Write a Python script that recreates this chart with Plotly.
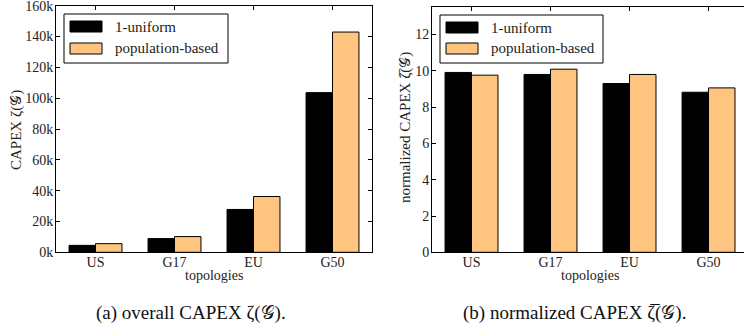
import plotly.graph_objects as go

# ---- data ----
categories = ["US", "G17", "EU", "G50"]
series_names = ["1-uniform", "population-based"]
capex_uniform = [4500, 8900, 27800, 103600]
capex_population = [5600, 10200, 36200, 142900]
norm_uniform = [9.91, 9.80, 9.30, 8.82]
norm_population = [9.76, 10.09, 9.80, 9.06]
left_ytick_vals = [0, 20000, 40000, 60000, 80000, 100000, 120000, 140000, 160000]
left_ytick_text = ["0k", "20k", "40k", "60k", "80k", "100k", "120k", "140k", "160k"]
right_ytick_vals = [0, 2, 4, 6, 8, 10, 12]

# ---- style ----
W, H = 744, 327
FONT = "Liberation Serif"
TXT = "#222222"
BLACK = "#000000"
ORANGE = "#FFC580"
colors = [BLACK, ORANGE]

x_idx = list(range(len(categories)))

fig = go.Figure()

def add_bars(vals_list, xa, ya):
    for name, vals, col in zip(series_names, vals_list, colors):
        fig.add_trace(go.Bar(
            x=x_idx, y=vals, name=name, xaxis=xa, yaxis=ya,
            marker=dict(color=col, line=dict(color=BLACK, width=1)),
            showlegend=False, offsetgroup=name,
        ))

add_bars([capex_uniform, capex_population], "x", "y")
add_bars([norm_uniform, norm_population], "x2", "y2")

def px_x(px):
    return px / W

def px_y(py):
    return 1 - py / H

axis_common = dict(
    showline=True, linecolor=BLACK, linewidth=1,
    ticks="inside", ticklen=4, tickcolor=BLACK, tickwidth=1,
    showgrid=False, zeroline=False, automargin=False,
    ticklabeloverflow="allow",
    tickfont=dict(family=FONT, size=14, color=TXT),
)

fig.update_layout(
    width=W, height=H,
    margin=dict(l=0, r=0, t=0, b=0, pad=0),
    paper_bgcolor="white", plot_bgcolor="white",
    barmode="group", bargap=0.33, bargroupgap=0,
    font=dict(family=FONT, color=TXT),
    xaxis=dict(domain=[px_x(56), px_x(372)], range=[-0.5, 3.5],
               tickvals=x_idx, ticktext=categories, mirror="ticks",
               ticklabelstandoff=-3, anchor="y", **axis_common),
    yaxis=dict(domain=[px_y(252.3), px_y(5.7)], range=[0, 160000],
               tickvals=left_ytick_vals, ticktext=left_ytick_text,
               ticklabelstandoff=-1, mirror="ticks", anchor="x", **axis_common),
    xaxis2=dict(domain=[px_x(432), 1.0], range=[-0.5, 3.449],
                tickvals=x_idx, ticktext=categories, mirror="ticks",
                ticklabelstandoff=-3, anchor="y2", **axis_common),
    yaxis2=dict(domain=[px_y(252.3), px_y(7.3)], range=[0, 13.5],
                tickvals=right_ytick_vals, mirror=False,
                ticklabelstandoff=-1, anchor="x2", **axis_common),
)

annotations = []

def text(t, x, y, size, angle=0, color=TXT, xanchor="center"):
    annotations.append(dict(text=t, x=px_x(x), y=px_y(y), xref="paper", yref="paper",
                            xanchor=xanchor, yanchor="middle", textangle=angle,
                            showarrow=False, font=dict(family=FONT, size=size, color=color)))

# axis titles
text("CAPEX ζ(𝒢)", 16, 130, 15, angle=-90)
text("normalized CAPEX ζ\u0305(𝒢)", 405, 127, 15, angle=-90)
text("topologies", 214, 275, 14)
text("topologies", 590, 275, 14)
# captions
text("(a) overall CAPEX ζ(𝒢).", 191, 313, 19, color="#111111")
text("(b) normalized CAPEX ζ\u0305(𝒢).", 574, 313, 19, color="#111111")

shapes = []

def legend(box, sw_x, sw_ys, text_x):
    x0, y0, x1, y1 = box
    shapes.append(dict(type="rect", xref="paper", yref="paper",
                       x0=px_x(x0), x1=px_x(x1), y0=px_y(y1), y1=px_y(y0),
                       line=dict(color=BLACK, width=1), fillcolor="white"))
    for name, col, (sy0, sy1) in zip(series_names, colors, sw_ys):
        shapes.append(dict(type="rect", xref="paper", yref="paper",
                           x0=px_x(sw_x[0]), x1=px_x(sw_x[1]), y0=px_y(sy1), y1=px_y(sy0),
                           line=dict(color=BLACK, width=1), fillcolor=col))
        text(name, text_x, (sy0 + sy1) / 2, 15, xanchor="left")

legend((64, 14, 228, 63), (70, 102), [(21, 32), (43, 54)], 113)
legend((440, 15, 603, 63), (446, 478), [(22, 33), (43, 54)], 489)

fig.update_layout(annotations=annotations, shapes=shapes)
fig.write_html("out.html", config={"displayModeBar": False},
               post_script="document.body.style.margin='0';document.body.style.overflow='hidden';")
